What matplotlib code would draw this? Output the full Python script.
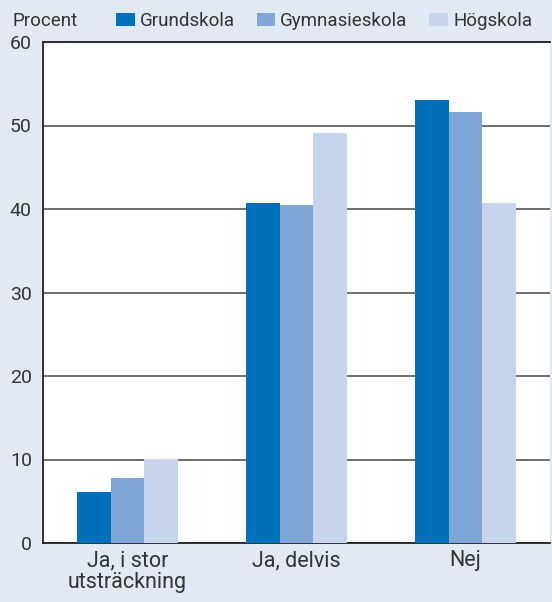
import matplotlib
matplotlib.use('Agg')
import matplotlib.pyplot as plt
import numpy as np

plt.rcParams['font.family'] = ['Roboto', 'DejaVu Sans']

# survey answers per education level (percent)
categories = ['Ja, i stor\nutsträckning', 'Ja, delvis', 'Nej']
series = ['Grundskola', 'Gymnasieskola', 'Högskola']
grundskola = [6.1, 40.7, 53.1]
gymnasieskola = [7.8, 40.5, 51.6]
hogskola = [10.1, 49.1, 40.7]
values = [grundskola, gymnasieskola, hogskola]
colors = ['#0070bb', '#80a6d8', '#c6d5ec']
yticks = [0, 10, 20, 30, 40, 50, 60]

bg = '#e1e9f5'
txt = '#333333'

fig = plt.figure(figsize=(5.52, 6.02), dpi=100, facecolor=bg)
ax = fig.add_axes([43/552, 59/602, 507/552, 501/602])
ax.set_facecolor('white')

x = np.arange(len(categories))
w = 0.2
for i, (vals, name, c) in enumerate(zip(values, series, colors)):
    ax.bar(x + (i - 1) * w, vals, width=w, color=c, label=name, zorder=3)

ax.set_xlim(-0.5, 2.5)
ax.set_ylim(0, 60)
ax.set_yticks(yticks)
ax.yaxis.grid(True, color='#555555', linewidth=1.2, zorder=1)
ax.tick_params(axis='y', length=0, labelsize=14, colors=txt, pad=8)
ax.tick_params(axis='x', length=0, labelsize=15.5, colors=txt, pad=5)
ax.set_xticks(x)
ax.set_xticklabels(categories, linespacing=1.05)

for s in ['right']:
    ax.spines[s].set_visible(False)
for s in ['left', 'bottom', 'top']:
    ax.spines[s].set_color('#222222')
    ax.spines[s].set_linewidth(1.3)

fig.text(13/552, 1 - 21/602, 'Procent', fontsize=13.5, color=txt, va='center')
fig.legend(loc='center left', bbox_to_anchor=(116/552, 1 - 21/602), ncol=3,
           frameon=False, fontsize=13.5, handlelength=1.0, handleheight=0.75,
           handletextpad=0.27, columnspacing=1.15, labelcolor=txt, borderaxespad=0,
           borderpad=0)

plt.savefig('out.png', dpi=100, facecolor=bg)
